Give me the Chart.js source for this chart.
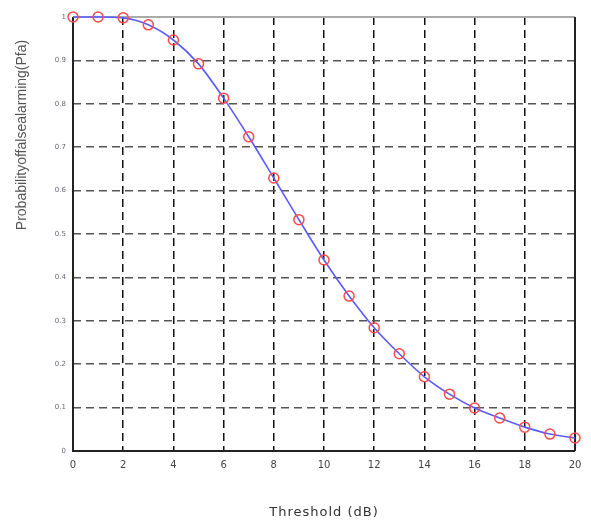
<!DOCTYPE html>
<html>
<head>
<meta charset="utf-8">
<script src="https://cdn.jsdelivr.net/npm/chart.js@4"></script>
<style>
  html, body { margin: 0; padding: 0; background: #fff; }
  #wrap { width: 591px; height: 522px; }
</style>
</head>
<body>
<div id="wrap"><canvas id="chart"></canvas></div>
<script>
const thresholds = [0, 1, 2, 3, 4, 5, 6, 7, 8, 9, 10, 11, 12, 13, 14, 15, 16, 17, 18, 19, 20];
const falseAlarm = [1.0, 1.0, 0.998, 0.982, 0.947, 0.892, 0.813, 0.724, 0.629, 0.533, 0.440,
  0.357, 0.284, 0.224, 0.171, 0.131, 0.099, 0.076, 0.055, 0.039, 0.030];
const xTitle = 'Threshold (dB)';
const yTitle = 'Probabilityoffalsealarming(Pfa)';

const points = thresholds.map((t, i) => ({ x: t, y: falseAlarm[i] }));

// frame + axis titles drawn around the plot area
const framePlugin = {
  id: 'frame',
  beforeDatasetsDraw(chart) {
    const { ctx, chartArea: a } = chart;
    ctx.save();
    ctx.lineWidth = 2;
    ctx.strokeStyle = '#aaa';
    ctx.beginPath();
    ctx.moveTo(a.left, a.top);
    ctx.lineTo(a.right, a.top);
    ctx.stroke();
    ctx.strokeStyle = '#222';
    ctx.beginPath();
    ctx.moveTo(a.right, a.top);
    ctx.lineTo(a.right, a.bottom);
    ctx.moveTo(a.left, a.top);
    ctx.lineTo(a.left, a.bottom);
    ctx.lineTo(a.right, a.bottom);
    ctx.stroke();
    ctx.restore();
  },
  afterDraw(chart) {
    const { ctx, chartArea: a } = chart;
    ctx.save();
    ctx.fillStyle = '#333';
    ctx.font = '13px "DejaVu Sans"';
    ctx.textAlign = 'center';
    ctx.textBaseline = 'middle';
    if (ctx.letterSpacing !== undefined) ctx.letterSpacing = '1px';
    ctx.fillText(xTitle, (a.left + a.right) / 2, a.bottom + 62);
    if (ctx.letterSpacing !== undefined) ctx.letterSpacing = '0px';

    ctx.translate(a.left - 51, a.top + 118);
    ctx.rotate(-Math.PI / 2);
    ctx.font = '14px "Liberation Sans Narrow", "Liberation Sans"';
    ctx.fillStyle = '#555';
    ctx.fillText(yTitle, 0, 0);
    ctx.restore();
  }
};

new Chart(document.getElementById('chart'), {
  type: 'line',
  data: {
    datasets: [{
      data: points,
      borderColor: '#5b5bff',
      borderWidth: 1.6,
      cubicInterpolationMode: 'monotone',
      clip: false,
      pointRadius: 5,
      pointBorderWidth: 1.5,
      pointBorderColor: '#ff4a4a',
      pointBackgroundColor: 'rgba(0,0,0,0)',
      fill: false
    }]
  },
  options: {
    responsive: true,
    maintainAspectRatio: false,
    animation: false,
    layout: { padding: { top: 17, right: 16, left: 0, bottom: 0 } },
    plugins: { legend: { display: false }, tooltip: { enabled: false } },
    scales: {
      x: {
        type: 'linear',
        min: 0,
        max: 20,
        afterFit(scale) { scale.height = 71; },
        border: { display: false, dash: [8, 5] },
        grid: { color: '#111', lineWidth: 1.5, drawTicks: false },
        ticks: {
          stepSize: 2,
          padding: 8,
          color: '#444',
          font: { family: 'DejaVu Sans', size: 10 }
        }
      },
      y: {
        min: 0,
        max: 1,
        afterFit(scale) { scale.width = 73; },
        border: { display: false, dash: [8, 5] },
        grid: { color: '#555', lineWidth: 1.5, drawTicks: false },
        ticks: {
          stepSize: 0.1,
          padding: 7,
          color: '#667',
          font: { family: 'DejaVu Sans', size: 7 },
          callback: v => String(Math.round(v * 10) / 10)
        }
      }
    }
  },
  plugins: [framePlugin]
});
</script>
</body>
</html>
